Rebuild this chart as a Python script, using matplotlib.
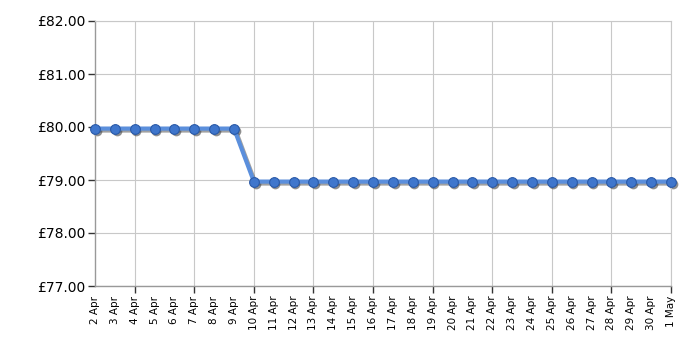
import matplotlib
matplotlib.use("Agg")
import matplotlib.pyplot as plt
import matplotlib.transforms as mtransforms

dates = ["2 Apr", "3 Apr", "4 Apr", "5 Apr", "6 Apr", "7 Apr", "8 Apr", "9 Apr",
         "10 Apr", "11 Apr", "12 Apr", "13 Apr", "14 Apr", "15 Apr", "16 Apr",
         "17 Apr", "18 Apr", "19 Apr", "20 Apr", "21 Apr", "22 Apr", "23 Apr",
         "24 Apr", "25 Apr", "26 Apr", "27 Apr", "28 Apr", "29 Apr", "30 Apr", "1 May"]
prices = [79.97] * 8 + [78.97] * 22
y_ticks = [77, 78, 79, 80, 81, 82]

fig = plt.figure(figsize=(7, 3.5), dpi=100)
ax = fig.add_axes([95 / 700, 1 - 286 / 350, 576 / 700, 265 / 350])

x = list(range(len(dates)))

# drop shadow: same series shifted a little down-right
shadow_tr = mtransforms.offset_copy(ax.transData, fig=fig, x=1.2, y=-1.4, units="points")
ax.plot(x, prices, color="#555555", alpha=0.55, lw=3, zorder=2, transform=shadow_tr, clip_on=False)
ax.plot(x, prices, "o", ms=7, color="#444444", alpha=0.6, mew=0, zorder=2,
        transform=shadow_tr, clip_on=False)

ax.plot(x, prices, color="#5b8fdc", lw=3, zorder=3, clip_on=False)
ax.plot(x, prices, "o", ms=7, color="#3f76cc", mec="#2a5aa8", mew=0.8, zorder=4, clip_on=False)

ax.set_xlim(0, len(dates) - 1)
ax.set_ylim(77, 82)
ax.set_yticks(y_ticks)
ax.set_yticklabels(["£%.2f" % v for v in y_ticks], fontsize=10)

major = sorted(set([i for i in x if (i - 2) % 3 == 0] + [len(dates) - 1]))
minor = [i for i in x if i not in major]
ax.set_xticks(major)
ax.set_xticks(minor, minor=True)
ax.set_xticklabels([dates[i] for i in major], rotation=90, fontsize=7.5)
ax.set_xticklabels([dates[i] for i in minor], rotation=90, fontsize=7.5, minor=True)
ax.tick_params(axis="x", which="major", length=5, width=1, color="#333333", pad=2)
ax.tick_params(axis="x", which="minor", length=5, width=0, pad=2)
ax.tick_params(axis="y", length=5, width=1, color="#333333", pad=2)

ax.grid(True, which="major", color="#c8c8c8", lw=0.8)
for s in ["top", "right"]:
    ax.spines[s].set_color("#c8c8c8")
    ax.spines[s].set_linewidth(0.8)
for s in ["left", "bottom"]:
    ax.spines[s].set_color("#999999")
    ax.spines[s].set_linewidth(1)

fig.savefig("out.png", dpi=100)
